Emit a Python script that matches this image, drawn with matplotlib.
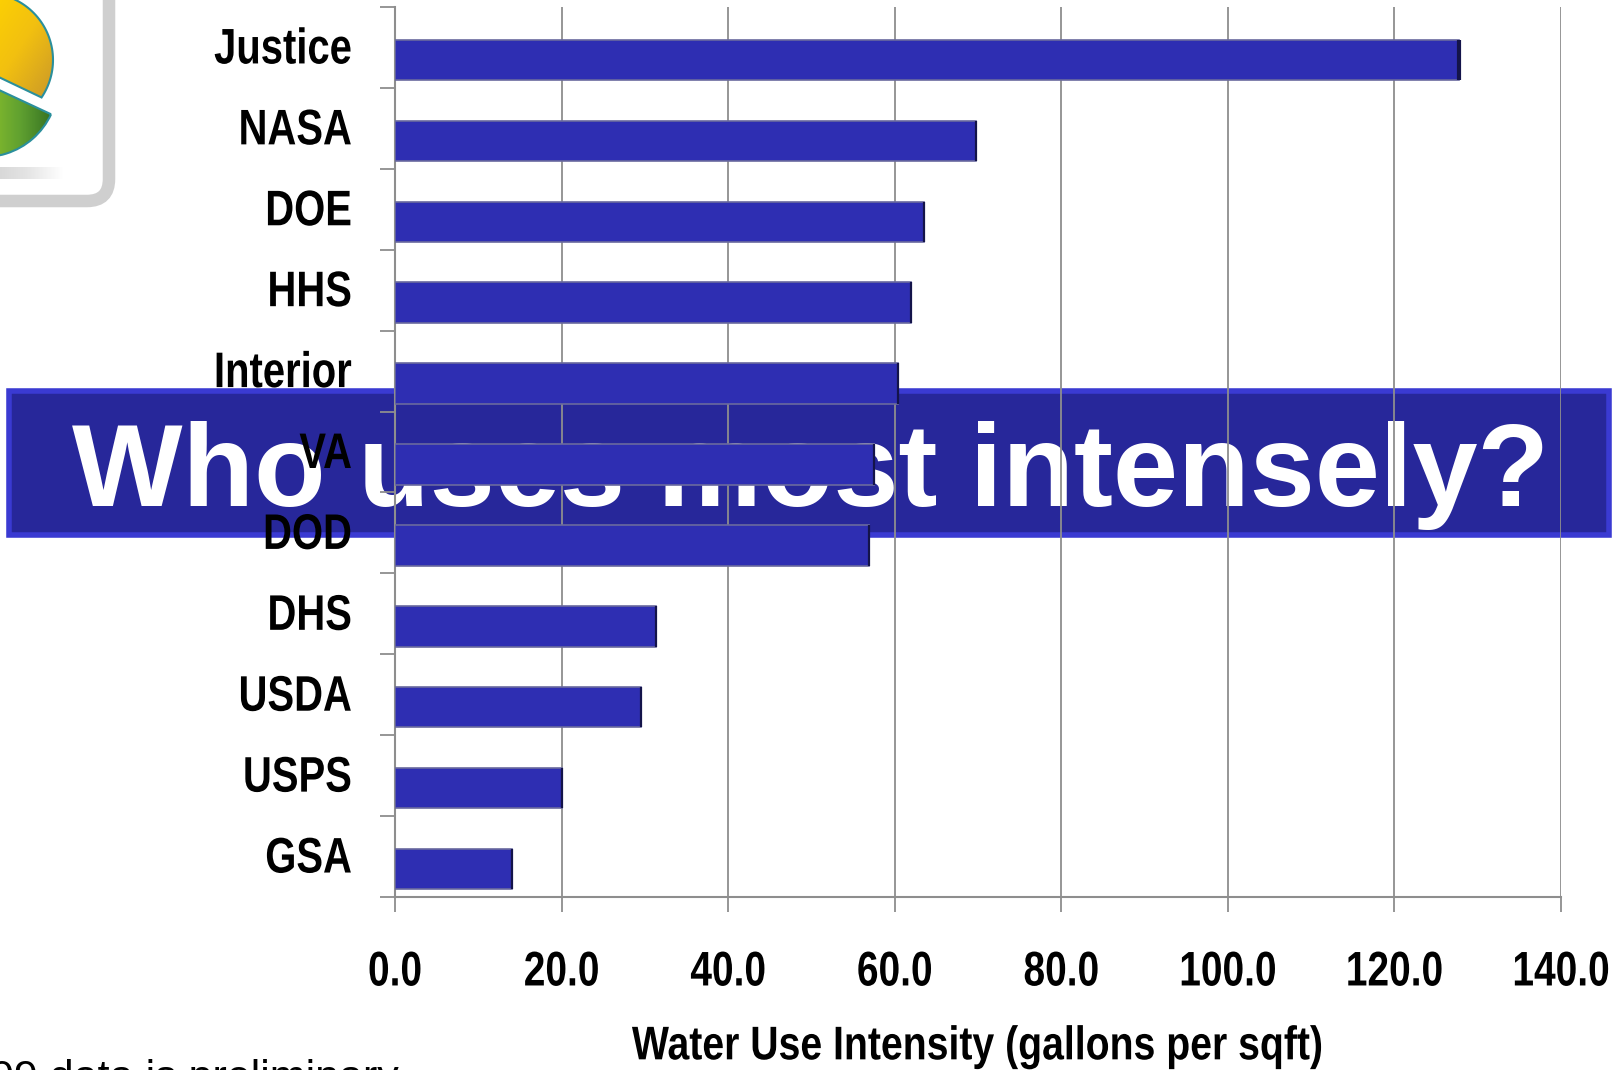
import numpy as np
import matplotlib
matplotlib.use("Agg")
import matplotlib.pyplot as plt
from matplotlib.colors import LinearSegmentedColormap
from matplotlib.patches import FancyBboxPatch, Polygon, Rectangle, Wedge
from matplotlib.patheffects import AbstractPathEffect
from matplotlib.transforms import Affine2D

agencies = ["Justice", "NASA", "DOE", "HHS", "Interior", "VA", "DOD", "DHS", "USDA", "USPS", "GSA"]
intensity = [127.8, 69.7, 63.5, 62.0, 60.4, 57.5, 56.9, 31.3, 29.5, 20.1, 14.1]
x_ticks = [0, 20, 40, 60, 80, 100, 120, 140]
x_tick_labels = ["0.0", "20.0", "40.0", "60.0", "80.0", "100.0", "120.0", "140.0"]
title = "Who uses most intensely?"
x_title = "Water Use Intensity (gallons per sqft)"
footnote = "FY09 data is preliminary"

W, H = 1622, 1070
FONT = "Liberation Sans"
GRAY = "#8e8e8e"
BAR = "#2e2eb2"
TEAL = "#2a8f9c"


class SqueezeX(AbstractPathEffect):
    # no narrow font installed, so squeeze the glyphs around x0 (pixels)
    def __init__(self, sx, x0, dy=0):
        super().__init__()
        self.sx = sx
        self.x0 = x0
        self.dy = dy

    def draw_path(self, renderer, gc, tpath, affine, rgbFace=None):
        squeeze = Affine2D().translate(-self.x0, 0).scale(self.sx, 1).translate(self.x0, self.dy)
        renderer.draw_path(gc, tpath, affine + squeeze, rgbFace)


fig = plt.figure(figsize=(W / 100, H / 100), dpi=100, facecolor="white")

# background layer in pixel coordinates: icon, banner, title, footnote
bg = fig.add_axes([0, 0, 1, 1], zorder=1)
bg.axis("off")

bg.add_patch(FancyBboxPatch((-200, -200), 309, 401, boxstyle="round,pad=0,rounding_size=22",
                            facecolor="white", edgecolor="#cfcfcf", linewidth=9))

shadow_cmap = LinearSegmentedColormap.from_list("s", ["#d4d4d4", "#e4e4e4", "#ffffff"])
bg.imshow(np.linspace(0, 1, 40).reshape(1, -1), extent=(-10, 64, 179, 167), aspect="auto",
          cmap=shadow_cmap, interpolation="bilinear", zorder=2)

# yellow slice of the pie
ang = np.radians(np.linspace(-102, 34, 60))
arc = np.column_stack([-14 + 67 * np.cos(ang), 60 + 67 * np.sin(ang)])
yellow = Polygon(np.vstack([arc, [[-14, 71]]]), closed=True, facecolor="none", edgecolor=TEAL,
                 linewidth=1.5, zorder=4)
bg.add_patch(yellow)
gx, gy = np.meshgrid(np.linspace(0, 1, 64), np.linspace(0, 1, 64))
yellow_cmap = LinearSegmentedColormap.from_list("y", ["#ffd400", "#f2c010", "#c8962a"])
im = bg.imshow((gx + gy) / 2, cmap=yellow_cmap, extent=(-14, 56, 100, -8), aspect="auto", zorder=3)
im.set_clip_path(yellow)

# green slice of the pie
green = Wedge((-16, 83), 74, 25, 120, facecolor="none", edgecolor=TEAL, linewidth=1.5, zorder=4)
bg.add_patch(green)
green_cmap = LinearSegmentedColormap.from_list("g", ["#8cc02c", "#5fa030", "#2f6a20"])
im2 = bg.imshow(np.linspace(0, 1, 64).reshape(1, -1), cmap=green_cmap,
                extent=(-16, 58, 160, 80), aspect="auto", zorder=3)
im2.set_clip_path(green)

bg.add_patch(Rectangle((9, 391), 1600, 144, facecolor="#27279a", edgecolor="#3a3ad2", linewidth=4, zorder=5))
bg.text(810, 475, title, color="white", fontsize=84.3, fontweight="bold", family=FONT,
        ha="center", va="center", zorder=6)
bg.text(-65, 1090, footnote, color="black", fontsize=31, family=FONT, ha="left", va="baseline", zorder=6)
bg.set_xlim(0, W)
bg.set_ylim(H, 0)

# the chart sits above the banner, transparent
left, right, top, bottom = 395, 1561, 7, 897
ax = fig.add_axes([left / W, 1 - bottom / H, (right - left) / W, (bottom - top) / H], zorder=2)
ax.patch.set_alpha(0)

y = np.arange(len(agencies))
ax.barh(y + 0.155, intensity, height=0.5, color=BAR, edgecolor="#6a6a9e", linewidth=1.2, zorder=3)
# the longest bar has the heavier dark end
end_widths = [3 if v == max(intensity) else 1.6 for v in intensity]
ax.vlines(intensity, y - 0.095, y + 0.405, color="#14144a", linewidth=end_widths, zorder=4)

ax.set_xlim(0, 140)
ax.set_ylim(len(agencies) - 0.5, -0.5)
ax.set_xticks(x_ticks)
ax.set_xticklabels(x_tick_labels, fontsize=35, family=FONT, fontweight="bold")
ax.set_yticks(np.arange(len(agencies) + 1) - 0.5)
ax.set_yticklabels([])
ax.set_yticks(y, minor=True)
ax.set_yticklabels(agencies, minor=True, fontsize=36, family=FONT, fontweight="bold")
ax.tick_params(axis="y", which="major", length=11, width=1.3, color=GRAY)
ax.tick_params(axis="y", which="minor", length=0, pad=31)
ax.tick_params(axis="x", length=11, width=1.3, color=GRAY, pad=27.5)
ax.grid(axis="x", color=GRAY, linewidth=1.3, zorder=1)
ax.set_axisbelow(True)

for s in ["top", "right"]:
    ax.spines[s].set_visible(False)
for s in ["left", "bottom"]:
    ax.spines[s].set_color(GRAY)
    ax.spines[s].set_linewidth(1.5)

ax.set_xlabel(x_title, fontsize=34, family=FONT, fontweight="bold", labelpad=21.5)

# condensed look for the chart's own texts
for label in ax.get_yticklabels(minor=True):
    label.set_path_effects([SqueezeX(0.8, 352, dy=2)])
for v, label in zip(x_ticks, ax.get_xticklabels()):
    label.set_path_effects([SqueezeX(0.8, ax.transData.transform((v, 0))[0])])
ax.xaxis.label.set_path_effects([SqueezeX(0.83, (left + right) / 2)])

fig.savefig("out.png", dpi=100, facecolor="white")
